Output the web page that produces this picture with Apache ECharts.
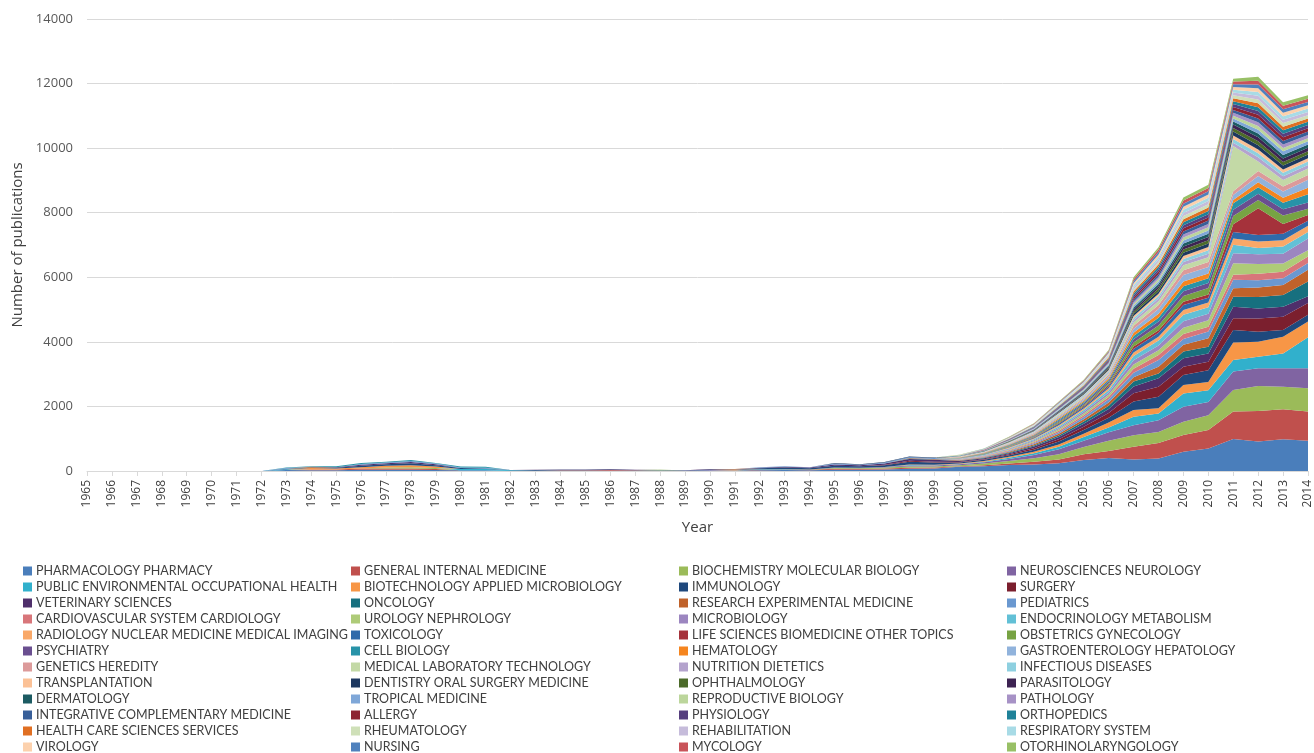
<!DOCTYPE html>
<html>
<head>
<meta charset="utf-8">
<title>Publications by subject</title>
<script src="https://cdn.jsdelivr.net/npm/echarts@6/dist/echarts.min.js"></script>
<style>
  html, body { margin: 0; padding: 0; background: #fff; }
  #chart { width: 1314px; height: 753px; }
</style>
</head>
<body>
<div id="chart"></div>
<script>
  var years = ['1965','1966','1967','1968','1969','1970','1971','1972','1973','1974','1975','1976','1977','1978','1979',
    '1980','1981','1982','1983','1984','1985','1986','1987','1988','1989','1990','1991','1992','1993','1994','1995',
    '1996','1997','1998','1999','2000','2001','2002','2003','2004','2005','2006','2007','2008','2009','2010','2011',
    '2012','2013','2014'];

  var yTicks = [0, 2000, 4000, 6000, 8000, 10000, 12000, 14000];

  // subject names, bottom of the stack first
  var subjects = [
    'PHARMACOLOGY PHARMACY', 'GENERAL INTERNAL MEDICINE', 'BIOCHEMISTRY MOLECULAR BIOLOGY', 'NEUROSCIENCES NEUROLOGY',
    'PUBLIC ENVIRONMENTAL OCCUPATIONAL HEALTH', 'BIOTECHNOLOGY APPLIED MICROBIOLOGY', 'IMMUNOLOGY', 'SURGERY',
    'VETERINARY SCIENCES', 'ONCOLOGY', 'RESEARCH EXPERIMENTAL MEDICINE', 'PEDIATRICS',
    'CARDIOVASCULAR SYSTEM CARDIOLOGY', 'UROLOGY NEPHROLOGY', 'MICROBIOLOGY', 'ENDOCRINOLOGY METABOLISM',
    'RADIOLOGY NUCLEAR MEDICINE MEDICAL IMAGING', 'TOXICOLOGY', 'LIFE SCIENCES BIOMEDICINE OTHER TOPICS', 'OBSTETRICS GYNECOLOGY',
    'PSYCHIATRY', 'CELL BIOLOGY', 'HEMATOLOGY', 'GASTROENTEROLOGY HEPATOLOGY',
    'GENETICS HEREDITY', 'MEDICAL LABORATORY TECHNOLOGY', 'NUTRITION DIETETICS', 'INFECTIOUS DISEASES',
    'TRANSPLANTATION', 'DENTISTRY ORAL SURGERY MEDICINE', 'OPHTHALMOLOGY', 'PARASITOLOGY',
    'DERMATOLOGY', 'TROPICAL MEDICINE', 'REPRODUCTIVE BIOLOGY', 'PATHOLOGY',
    'INTEGRATIVE COMPLEMENTARY MEDICINE', 'ALLERGY', 'PHYSIOLOGY', 'ORTHOPEDICS',
    'HEALTH CARE SCIENCES SERVICES', 'RHEUMATOLOGY', 'REHABILITATION', 'RESPIRATORY SYSTEM',
    'VIROLOGY', 'NURSING', 'MYCOLOGY', 'OTORHINOLARYNGOLOGY'
  ];

  var colors = [
    '#4a7ebb', '#c0504d', '#9bbb59', '#8064a2', '#31b0cc', '#f79646', '#1f497d', '#7b1f2e',
    '#4f2f6b', '#17707f', '#c0622a', '#6a98d0', '#d8767a', '#aecb78', '#9c86c0', '#62c0d6',
    '#f9a868', '#2f6aaa', '#a5323b', '#77a343', '#6a4f90', '#2893a8', '#f5851f', '#91b3dc',
    '#dc9a9a', '#c3d9a6', '#b4a3cd', '#8ed0e0', '#fbc196', '#1d3860', '#4c6b2a', '#3d2352',
    '#1c5b62', '#7fa7d8', '#bcd69c', '#a792c6', '#385f99', '#8c2332', '#563f7e', '#1f8299',
    '#e06f22', '#cfe0b8', '#c6bcdb', '#a8dbe6', '#fcd1ad', '#4f81bd', '#c9545a', '#98c066'
  ];

  // values per year 1965..2014
  var s1  = [0,0,0,0,0,0,0,0, 30,20,20,40,40,40,30,20,20,0,10,10,10,10,10,10,5,15,15,25,30,25,40,40,50,70,80, 130,150,185,205,240,340,400,360,390,600,700,990,910,980,940];
  var s2  = [0,0,0,0,0,0,0,0, 0,30,25,40,40,40,30,0,0,0,0,10,15,20,10,0,0,0,0,15,20,15,30,25,30,30,25, 20,30,50,80,120,180,220,390,480,515,570,850,950,930,900];
  var s3  = [0,0,0,0,0,0,0,0, 0,0,0,0,30,40,30,0,0,0,0,0,0,0,0,10,0,0,0,0,0,10,20,20,25,40,35, 30,50,75,110,160,220,320,360,340,410,460,670,770,700,720];
  var s4  = [0,0,0,0,0,0,0,0, 0,0,0,0,0,0,0,0,0,0,0,0,0,0,0,0,5,15,0,0,0,0,15,15,20,30,30, 30,40,65,100,150,200,260,310,360,465,410,570,550,570,620];
  var s5  = [0,0,0,0,0,0,0,0, 25,0,0,0,0,0,0,40,40,20,0,0,0,0,0,0,0,0,0,15,15,0,0,0,0,15,10, 10,20,35,55,80,110,150,260,210,410,360,360,360,460,960];
  var s6  = [0,0,0,0,0,0,0,0, 0,40,30,40,50,60,50,0,0,0,0,0,0,0,0,0,0,0,20,0,0,0,0,0,0,20,15, 15,20,30,50,70,100,150,210,160,260,260,540,460,520,490];
  var s7  = [0,0,0,0,0,0,0,0, 15,20,25,40,50,60,40,30,20,10,20,20,15,15,10,10,5,15,15,30,40,35,60,45,55,80,70, 30,35,45,60,90,120,150,260,360,310,360,390,310,210,210];
  var s8  = [0,0,0,0,0,0,0,0, 0,0,0,0,0,0,0,0,0,0,0,0,0,0,0,0,0,0,0,0,0,0,0,0,15,30,25, 15,20,30,45,70,100,150,260,310,260,260,360,410,410,360];
  var s9  = [0,0,0,0,0,0,0,0, 0,0,20,30,30,40,30,0,0,0,10,10,10,15,10,0,5,15,0,15,25,20,40,30,40,60,55, 30,30,35,50,70,90,120,210,260,260,260,360,310,310,210];
  var s10 = [0,0,0,0,0,0,0,0, 0,0,0,0,0,0,0,0,0,0,0,0,0,0,0,0,0,0,0,0,0,0,0,0,0,15,15, 10,15,25,35,50,70,100,150,150,210,210,310,360,360,460];
  var s11 = [0,0,0,0,0,0,0,0, 0,20,0,0,0,0,0,0,0,0,0,0,0,0,0,0,0,0,10,0,0,0,0,0,0,15,15, 10,15,25,35,50,70,100,130,210,210,260,260,290,310,360];
  var s12 = [0,0,0,0,0,0,0,0, 20,0,0,30,20,30,20,20,20,0,0,0,0,0,0,0,0,0,0,20,20,15,25,20,25,25,25, 10,15,20,35,50,70,100,140,210,180,210,260,230,210,210];
  var s13 = [0,0,0,0,0,0,0,0, 0,0,0,0,0,0,0,0,0,0,0,0,0,0,0,0,0,0,0,0,0,0,0,0,0,0,0, 10,14,22,30,45,55,70,130,150,150,150,155,200,200,200];
  var s14 = [0,0,0,0,0,0,0,0, 0,0,0,0,0,0,0,0,0,0,0,0,0,0,0,0,0,0,0,0,0,0,0,0,0,0,0, 10,14,22,30,45,55,70,130,150,200,200,360,300,260,200];
  var s15 = [0,0,0,0,0,0,0,0, 0,0,0,0,0,0,0,0,0,0,0,0,0,0,0,0,0,0,0,0,0,0,0,0,0,0,0, 10,14,22,30,45,55,70,130,150,200,200,310,300,300,360];
  var s16 = [0,0,0,0,0,0,0,0, 0,0,0,0,0,0,0,0,0,0,0,0,0,0,0,0,0,0,0,0,0,0,0,0,0,0,0, 10,14,22,30,45,55,70,130,150,200,200,260,200,220,200];
  var s17 = [0,0,0,0,0,0,0,0, 0,0,0,0,0,0,0,0,0,0,0,0,0,0,0,0,0,0,0,0,0,0,0,0,0,0,0, 6,10,18,25,40,45,60,110,120,150,150,200,200,200,200];
  var s18 = [0,0,0,0,0,0,0,0, 0,0,0,0,0,0,0,0,0,0,0,0,0,0,0,0,0,0,0,0,0,0,0,0,0,0,0, 6,10,18,25,40,45,60,110,120,150,150,200,200,200,150];
  var s19 = [0,0,0,0,0,0,0,0, 0,0,0,0,0,0,0,0,0,0,0,0,0,0,0,0,0,0,0,0,0,0,0,0,0,0,0, 4,6,10,15,25,30,40,80,80,100,100,240,830,300,180];
  var s20 = [0,0,0,0,0,0,0,0, 0,0,0,0,0,0,0,0,0,0,0,0,0,0,0,10,0,0,0,0,0,0,0,0,0,0,0, 6,10,18,25,40,45,60,120,150,180,200,250,250,260,190];
  var s21 = [0,0,0,0,0,0,0,0, 0,0,0,0,0,0,0,0,0,0,0,0,0,0,0,0,0,0,0,0,0,0,0,0,0,0,0, 6,10,15,20,35,40,50,100,120,150,150,200,200,200,200];
  var s22 = [0,0,0,0,0,0,0,0, 20,20,30,30,30,30,20,30,30,0,0,0,0,0,0,0,0,0,0,0,0,0,0,0,0,0,0, 6,10,15,20,35,40,50,100,120,150,150,200,200,200,250];
  var s23 = [0,0,0,0,0,0,0,0, 0,0,0,0,0,0,0,0,0,0,0,0,0,0,0,0,0,0,0,0,0,0,0,0,0,0,0, 6,10,15,20,35,40,50,100,120,150,150,100,150,150,200];
  var s24 = [0,0,0,0,0,0,0,0, 0,0,0,0,0,0,0,0,0,0,0,0,0,0,0,0,0,0,0,0,0,0,0,0,0,0,0, 6,10,18,25,40,45,60,120,150,200,200,150,200,200,250];
  var s25 = [0,0,0,0,0,0,0,0, 0,0,0,0,0,0,0,0,0,0,0,0,0,0,0,0,0,0,0,0,0,0,0,0,0,0,0, 6,10,15,20,35,40,50,100,120,150,150,120,150,150,150];
  var s26 = [0,0,0,0,0,0,0,0, 0,0,0,0,0,0,0,0,0,0,0,0,0,0,0,0,0,0,0,0,0,0,0,0,0,0,0, 6,10,15,20,35,40,50,100,120,150,150,1400,300,200,200];
  var s27 = [0,0,0,0,0,0,0,0, 0,0,0,0,0,0,0,0,0,0,0,0,0,0,0,0,0,0,0,0,0,0,0,0,0,0,0, 3,5,9,14,20,25,35,70,80,100,110,100,125,120,110];
  var s28 = [0,0,0,0,0,0,0,0, 0,0,0,0,0,0,0,0,0,0,0,0,0,0,0,0,0,0,0,0,0,0,0,0,0,0,0, 3,5,10,14,20,26,36,70,80,100,110,120,125,110,110];
  var s29 = [0,0,0,0,0,0,0,0, 0,0,0,0,0,0,0,0,0,0,0,0,0,0,0,0,0,0,0,0,0,0,0,0,0,0,0, 3,5,8,12,18,22,30,60,70,90,100,110,115,100,100];
  var s30 = [0,0,0,0,0,0,0,0, 0,0,0,0,0,0,0,0,0,0,0,0,0,0,0,0,0,0,0,0,0,0,20,15,20,20,20, 5,6,10,14,20,25,35,70,80,100,110,120,135,120,110];
  var s31 = [0,0,0,0,0,0,0,0, 0,0,0,0,0,0,0,0,0,0,0,0,0,0,0,0,0,0,0,0,0,0,0,0,0,0,0, 3,5,9,13,19,24,33,65,80,100,100,110,125,110,100];
  var s32 = [0,0,0,0,0,0,0,0, 0,0,0,0,0,0,0,0,0,0,0,0,0,0,0,0,0,0,0,0,0,0,0,0,0,0,0, 3,5,9,13,20,25,33,60,75,95,100,110,125,110,110];
  var s33 = [0,0,0,0,0,0,0,0, 0,0,0,0,0,0,0,0,0,0,0,0,0,0,0,0,0,0,0,0,0,0,0,0,0,0,0, 2,4,8,12,18,23,30,60,70,90,100,90,115,110,100];
  var s34 = [0,0,0,0,0,0,0,0, 0,0,0,0,0,0,0,0,0,0,0,0,0,0,0,0,0,0,0,0,0,0,0,0,0,0,0, 3,5,9,13,19,24,33,65,75,95,100,90,115,110,100];
  var s35 = [0,0,0,0,0,0,0,0, 0,0,0,0,0,0,0,0,0,0,0,0,0,0,0,0,0,0,0,0,0,0,0,0,0,0,0, 2,4,8,12,18,22,30,60,75,90,100,90,115,105,100];
  var s36 = [0,0,0,0,0,0,0,0, 0,0,0,0,0,0,0,0,0,0,0,0,0,0,0,0,0,0,0,0,0,0,0,0,0,0,0, 3,5,9,13,19,24,33,65,75,95,100,90,115,110,100];
  var s37 = [0,0,0,0,0,0,0,0, 0,0,0,0,0,0,0,0,0,0,0,0,0,0,0,0,0,0,0,0,0,0,0,0,0,0,0, 2,4,8,12,18,24,33,60,75,95,105,90,120,110,105];
  var s38 = [0,0,0,0,0,0,0,0, 0,0,0,0,0,0,0,0,0,0,0,0,0,0,0,0,0,0,0,0,0,0,0,0,0,0,0, 3,5,9,13,19,24,32,65,75,95,100,90,115,110,100];
  var s39 = [0,0,0,0,0,0,0,0, 0,0,0,0,0,0,0,0,0,0,0,0,0,0,0,0,0,0,0,0,0,0,0,0,0,0,0, 3,5,9,13,19,24,33,65,80,95,100,90,115,110,100];
  var s40 = [0,0,0,0,0,0,0,0, 0,0,0,0,0,0,0,0,0,0,0,0,0,0,0,0,0,0,0,0,0,0,0,0,0,0,0, 2,4,8,12,18,23,32,60,75,95,100,90,120,110,100];
  var s41 = [0,0,0,0,0,0,0,0, 0,0,0,0,0,0,0,0,0,0,0,0,0,0,0,0,0,0,0,0,0,0,0,0,0,0,0, 3,5,9,13,19,24,33,65,75,95,105,90,120,110,105];
  var s42 = [0,0,0,0,0,0,0,0, 0,0,0,0,0,0,0,0,0,0,0,0,0,0,0,0,0,0,0,0,0,0,0,0,0,0,0, 3,5,9,13,19,24,33,65,75,95,100,90,115,110,100];
  var s43 = [0,0,0,0,0,0,0,0, 0,0,0,0,0,0,0,0,0,0,0,0,0,0,0,0,0,0,0,0,0,0,0,0,0,0,0, 2,4,8,12,18,23,32,60,75,95,100,85,115,105,100];
  var s44 = [0,0,0,0,0,0,0,0, 0,0,0,0,0,0,0,0,0,0,0,0,0,0,0,0,0,0,0,0,0,0,0,0,0,0,0, 3,5,9,13,20,25,34,65,80,100,105,90,120,110,105];
  var s45 = [0,0,0,0,0,0,0,0, 0,0,0,0,0,0,0,0,0,0,0,0,0,0,0,0,0,0,0,0,0,0,0,0,0,0,0, 3,5,9,13,19,24,33,64,76,95,100,85,115,105,100];
  var s46 = [0,0,0,0,0,0,0,0, 0,0,0,0,0,0,0,0,0,0,0,0,0,0,0,0,0,0,0,0,0,0,0,0,0,0,0, 2,4,8,12,18,23,32,60,75,95,100,85,120,110,105];
  var s47 = [0,0,0,0,0,0,0,0, 0,0,0,0,0,0,0,0,0,0,0,0,0,0,0,0,0,0,0,0,0,0,0,0,0,0,0, 3,5,9,13,19,24,33,64,76,95,100,85,115,105,100];
  var s48 = [0,0,0,0,0,0,0,0, 0,0,0,0,0,0,0,0,0,0,0,0,0,0,0,0,0,0,0,0,0,0,0,0,0,0,0, 3,5,9,13,19,24,33,64,76,95,100,85,120,110,105];

  var values = [s1,s2,s3,s4,s5,s6,s7,s8,s9,s10,s11,s12,s13,s14,s15,s16,s17,s18,s19,s20,s21,s22,s23,s24,
    s25,s26,s27,s28,s29,s30,s31,s32,s33,s34,s35,s36,s37,s38,s39,s40,s41,s42,s43,s44,s45,s46,s47,s48];

  var chart = echarts.init(document.getElementById('chart'));

  var series = subjects.map(function (name, i) {
    return {
      name: name,
      type: 'line',
      stack: 'total',
      data: values[i],
      symbol: 'none',
      lineStyle: { width: 0 },
      areaStyle: { opacity: 1 },
      itemStyle: { color: colors[i] },
      emphasis: { disabled: true }
    };
  });

  // four legend columns, filled row by row like the original
  var legends = [0, 1, 2, 3].map(function (col) {
    return {
      orient: 'vertical',
      left: [23, 351, 679, 1007][col],
      top: 563,
      height: 220,
      padding: 0,
      itemGap: 0,
      itemWidth: 9,
      itemHeight: 9,
      icon: 'rect',
      selectedMode: false,
      textStyle: { fontFamily: 'Lato', fontSize: 12.5, color: '#404040', lineHeight: 16, padding: [0, 0, 0, -1] },
      data: subjects.filter(function (n, i) { return i % 4 === col; })
    };
  });

  chart.setOption({
    animation: false,
    color: colors,
    grid: { left: 87, right: 4, top: 19, bottom: 282, containLabel: false },
    legend: legends,
    xAxis: {
      type: 'category',
      data: years,
      boundaryGap: false,
      name: 'Year',
      nameLocation: 'middle',
      nameGap: 49,
      nameTextStyle: { fontFamily: 'Open Sans', fontSize: 15, color: '#404040' },
      axisLine: { lineStyle: { color: '#d9d9d9' } },
      axisTick: { show: true, length: 5, lineStyle: { color: '#d9d9d9' } },
      axisLabel: { rotate: 90, interval: 0, margin: 9, fontFamily: 'Open Sans', fontSize: 12, color: '#404040' }
    },
    yAxis: {
      type: 'value',
      min: yTicks[0],
      max: yTicks[yTicks.length - 1],
      interval: 2000,
      name: 'Number of publications',
      nameLocation: 'middle',
      nameGap: 60,
      nameTextStyle: { fontFamily: 'Open Sans', fontSize: 15, color: '#404040' },
      axisLine: { show: false },
      axisTick: { show: false },
      axisLabel: { margin: 14, fontFamily: 'Open Sans', fontSize: 13, color: '#595959', formatter: function (v) { return String(v); } },
      splitLine: { lineStyle: { color: '#d9d9d9', width: 1 } }
    },
    series: series
  });
</script>
</body>
</html>
